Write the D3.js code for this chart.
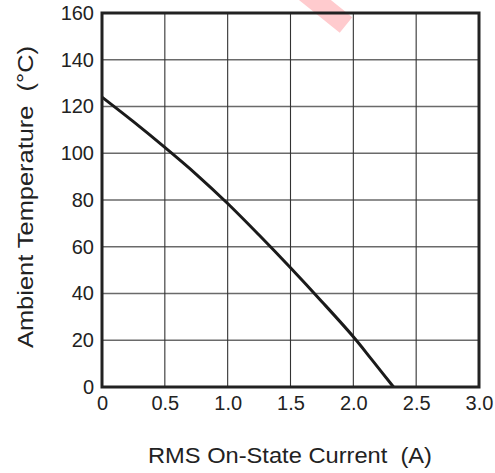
<!DOCTYPE html>
<html><head><meta charset="utf-8">
<script src="https://cdn.jsdelivr.net/npm/d3@7/dist/d3.min.js"></script>
<style>body{margin:0;background:#fff}svg{display:block}text{font-family:"Liberation Sans",Arial,sans-serif;fill:#222;white-space:pre}</style>
</head><body><svg id="c" width="495" height="473"></svg>
<script>
const currentA = [0, 0.25, 0.5, 0.75, 1.0, 1.25, 1.5, 1.75, 2.0, 2.15, 2.32];
const ambientC = [124, 113.5, 102.5, 91, 78.5, 65, 51, 36.5, 21.5, 11.5, 0];
const xTicks = [0, 0.5, 1.0, 1.5, 2.0, 2.5, 3.0];
const xTickLabels = ["0", "0.5", "1.0", "1.5", "2.0", "2.5", "3.0"];
const yTicks = [0, 20, 40, 60, 80, 100, 120, 140, 160];
const xTitle = "RMS On-State Current  (A)";
const yTitle = "Ambient Temperature  (°C)";

const svg = d3.select("#c");
const L = 102, R = 479, T = 13, B = 387;
const x = d3.scaleLinear().domain([0, 3]).range([L, R]);
const y = d3.scaleLinear().domain([0, 160]).range([B, T]);

// watermark
svg.append("line").attr("x1", 300).attr("y1", -12).attr("x2", 346).attr("y2", 25)
  .attr("stroke", "#ffcbce").attr("stroke-width", 20);

// grid
svg.append("g").selectAll("line").data(yTicks.slice(1, -1)).join("line")
  .attr("x1", L).attr("x2", R).attr("y1", d => y(d)).attr("y2", d => y(d))
  .attr("stroke", "#6a6a6a").attr("stroke-width", 1.3);
svg.append("g").selectAll("line").data(xTicks.slice(1, -1)).join("line")
  .attr("y1", T).attr("y2", B).attr("x1", d => x(d)).attr("x2", d => x(d))
  .attr("stroke", "#333").attr("stroke-width", 1.1);

// axes labels via d3 axes
const ax = svg.append("g").attr("transform", `translate(0,${B})`)
  .call(d3.axisBottom(x).tickValues(xTicks).tickFormat((d, i) => xTickLabels[i]).tickSize(0).tickPadding(9));
const ay = svg.append("g").attr("transform", `translate(${L},0)`)
  .call(d3.axisLeft(y).tickValues(yTicks).tickSize(0).tickPadding(8));
[ax, ay].forEach(g => { g.select(".domain").remove();
  g.selectAll("text").attr("font-size", 20).attr("fill", "#222").attr("font-family", "Liberation Sans, Arial, sans-serif"); });
ax.selectAll("text").attr("dy", "0.72em");

// curve
svg.append("path").datum(currentA.map((d, i) => [d, ambientC[i]]))
  .attr("d", d3.line().x(d => x(d[0])).y(d => y(d[1])).curve(d3.curveCatmullRom.alpha(0.5)))
  .attr("fill", "none").attr("stroke", "#1a1a1a").attr("stroke-width", 3);

// frame
svg.append("rect").attr("x", L).attr("y", T).attr("width", R - L).attr("height", B - T)
  .attr("fill", "none").attr("stroke", "#222").attr("stroke-width", 3);

svg.append("text").attr("x", 290).attr("y", 463).attr("text-anchor", "middle")
  .attr("font-size", 21.5).attr("textLength", 284).attr("lengthAdjust", "spacingAndGlyphs").text(xTitle);
svg.append("text").attr("transform", "translate(33,197) rotate(-90)").attr("text-anchor", "middle")
  .attr("font-size", 21.5).attr("textLength", 302).attr("lengthAdjust", "spacingAndGlyphs").text(yTitle);
</script></body></html>
